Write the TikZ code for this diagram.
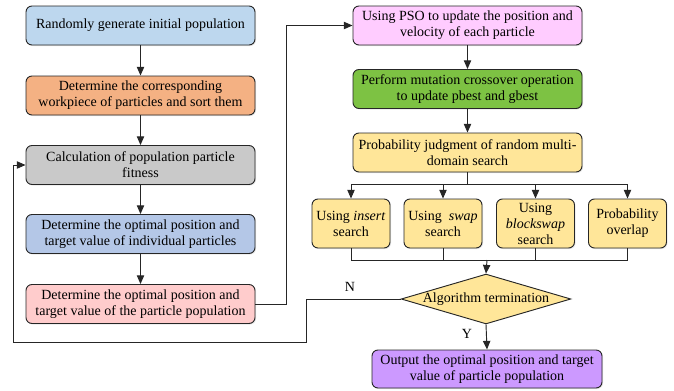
\documentclass[tikz,border=0pt]{standalone}
\usepackage{fontspec}
\setmainfont{Liberation Serif}
\newfontfamily\timesfont{Liberation Serif}
\usetikzlibrary{arrows.meta,shapes.geometric,shadows}

\definecolor{cBlueA}{HTML}{BDD7EE}
\definecolor{cOrange}{HTML}{F4B183}
\definecolor{cGray}{HTML}{C9C9C9}
\definecolor{cBlueB}{HTML}{B4C7E7}
\definecolor{cPink}{HTML}{FFCCCC}
\definecolor{cMagenta}{HTML}{FFCCFF}
\definecolor{cGreen}{HTML}{7DC243}
\definecolor{cYellow}{HTML}{FFE699}
\definecolor{cPurple}{HTML}{CC99FF}

\tikzset{
  stepbox/.style={draw=black!85, line width=0.7pt, rounded corners=4.5pt, align=center,
    minimum width=171.75pt, minimum height=29.25pt, inner sep=1pt,
    font=\timesfont\fontsize{10.5}{12}\selectfont,
    drop shadow={opacity=0.2, shadow xshift=0.8pt, shadow yshift=-0.8pt}},
  searchbox/.style={stepbox, minimum width=58.5pt, minimum height=36.75pt, fill=cYellow},
  judge/.style={draw=black!85, line width=0.7pt, diamond, aspect=3.4, inner sep=0pt,
    minimum width=122pt, minimum height=36pt, fill=cYellow, font=\timesfont\fontsize{10.5}{12}\selectfont},
  arr/.style={line width=0.7pt, draw=black!85, -{Triangle[length=6.5pt, width=5.5pt]}},
  ln/.style={line width=0.7pt, draw=black!85}
}

\begin{document}
\begin{tikzpicture}[x=0.75pt,y=0.75pt,yscale=-1]
  \useasboundingbox (0,0) rectangle (674,390);

  % left column
  \node[stepbox, fill=cBlueA] (init) at (140.5,25.5) {Randomly generate initial population};
  \node[stepbox, fill=cOrange] (sort) at (140.5,95.5) {Determine the corresponding\\workpiece of particles and sort them};
  \node[stepbox, fill=cGray] (fit) at (140.5,165) {Calculation of population particle\\fitness};
  \node[stepbox, fill=cBlueB] (indbest) at (140.5,234) {Determine the optimal position and\\target value of individual particles};
  \node[stepbox, fill=cPink] (popbest) at (140.5,304) {Determine the optimal position and\\target value of the particle population};

  % right column
  \node[stepbox, fill=cMagenta] (pso) at (467.5,25.5) {Using PSO to update the position and\\velocity of each particle};
  \node[stepbox, fill=cGreen] (mut) at (467.5,89) {Perform mutation crossover operation\\to update pbest and gbest};
  \node[stepbox, fill=cYellow] (prob) at (467.5,152.5) {Probability judgment of random multi-\\domain search};

  % search boxes
  \node[searchbox] (ins) at (351,223.5) {Using \textit{insert}\\search};
  \node[searchbox] (swp) at (443,223.5) {Using \ \textit{swap}\\search};
  \node[searchbox] (blk) at (535.5,223.5) {Using\\\textit{blockswap}\\search};
  \node[searchbox] (ovl) at (627.5,223.5) {Probability\\overlap};

  \node[judge] (term) at (486,299) {Algorithm termination};
  \node[stepbox, fill=cPurple, minimum width=172.5pt, minimum height=28.5pt] (out) at (487,369) {Output the optimal position and target\\value of particle population};

  \coordinate (fork) at (467.5,184);
  \coordinate (join) at (487,260);
  \coordinate (nturn) at (306,342);
  \coordinate (loopx) at (13,342);

  %Straight Lines
  \draw[arr] (init) -- (sort);
  \draw[arr] (sort) -- (fit);
  \draw[arr] (fit) -- (indbest);
  \draw[arr] (indbest) -- (popbest);
  \draw[arr] (popbest.east) -- ++(31,0) |- (pso.west);
  \draw[arr] (pso) -- (mut);
  \draw[arr] (mut) -- (prob);

  \draw[ln] (prob.south) -- (fork);
  \draw[arr] (fork) -| (ins.north);
  \draw[arr] (fork) -| (swp.north);
  \draw[arr] (fork) -| (blk.north);
  \draw[arr] (fork) -| (ovl.north);

  \draw[ln] (ins.south) |- (join);
  \draw[ln] (swp.south) |- (join);
  \draw[ln] (blk.south) |- (join);
  \draw[ln] (ovl.south) |- (join);
  \draw[arr] (join) -- (term.north);

  \draw[arr] (term.south) -- (out.north);
  \draw[arr] (term.west) -| (nturn) -- (loopx) |- (fit.west);

  % Text Node
  \node[font=\timesfont\fontsize{10.5}{12}\selectfont] (ylab) at (467,334) {Y};
  \node[font=\timesfont\fontsize{10.5}{12}\selectfont] (nlab) at (350,287) {N};
\end{tikzpicture}
\end{document}
